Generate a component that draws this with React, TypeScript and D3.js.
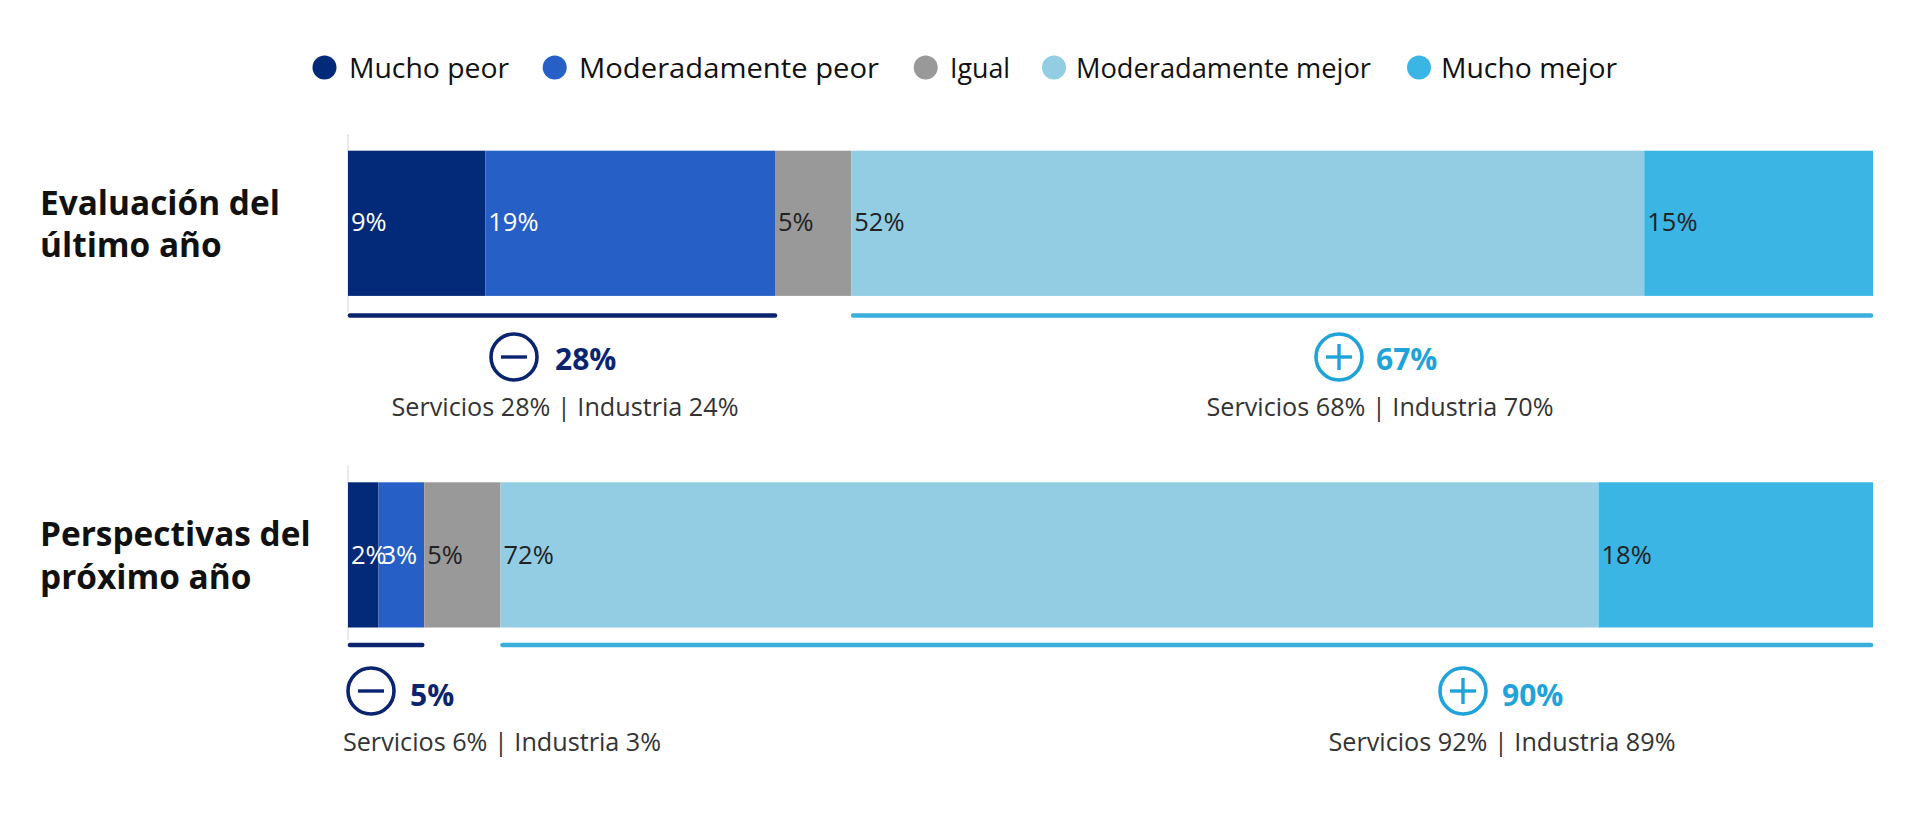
import React from "react";
import * as d3 from "d3";

const legendLabels = ["Mucho peor", "Moderadamente peor", "Igual", "Moderadamente mejor", "Mucho mejor"];
const rowLabels = [["Evaluación del", "último año"], ["Perspectivas del", "próximo año"]];
const lastYear = [9, 19, 5, 52, 15];
const nextYear = [2, 3, 5, 72, 18];
const negativeTotals = [28, 5];
const positiveTotals = [67, 90];
const negativeDetail = ["Servicios 28% | Industria 24%", "Servicios 6% | Industria 3%"];
const positiveDetail = ["Servicios 68% | Industria 70%", "Servicios 92% | Industria 89%"];

const colors = ["#022a78", "#265fc6", "#999999", "#92cde3", "#3bb5e4"];
const labelColors = ["#ffffff", "#ffffff", "#222222", "#222222", "#222222"];
const NAVY = "#0b2470";
const SKY = "#1fa3da";
const FONT = "'Open Sans', sans-serif";

const legendCircleX = [324.5, 554.7, 925.7, 1054, 1419];
const legendTextX = [349, 579, 950, 1076, 1441];
const legendTextW = [160, 300, 60, 295, 176];
const rowTop = [150.7, 482.3];
const barHeight = 145.2;
const rowLabelY = [[215, 257], [546, 589]];
const valueY = [231, 564];
const lineY = [315.5, 645];
const axisY = [[134, 312], [465, 640]];
const negLayout = [
  { cx: 514, cy: 357, tx: 555, ty: 370, dx: 565, dy: 416 },
  { cx: 371, cy: 691, tx: 410, ty: 705.5, dx: 502, dy: 751 },
];
const posLayout = [
  { cx: 1339, cy: 357, tx: 1376, ty: 370, dx: 1380, dy: 416 },
  { cx: 1463, cy: 691, tx: 1502, ty: 705.5, dx: 1502, dy: 751 },
];

const x = d3.scaleLinear().domain([0, 100]).range([348, 1873]);

function Summary({ sign, total, detail, p, color }: any) {
  const r = 23;
  return (
    <g>
      <circle cx={p.cx} cy={p.cy} r={r} fill="#fff" stroke={color} strokeWidth={3.6} />
      <line x1={p.cx - 13} x2={p.cx + 13} y1={p.cy} y2={p.cy} stroke={color} strokeWidth={3.4} />
      {sign === "+" && <line x1={p.cx} x2={p.cx} y1={p.cy - 13} y2={p.cy + 13} stroke={color} strokeWidth={3.4} />}
      <text x={p.tx} y={p.ty} fontSize={30} fontWeight={700} fill={color}>{total}%</text>
      <text x={p.dx} y={p.dy} fontSize={25.2} fill="#333333" textAnchor="middle">{detail}</text>
    </g>
  );
}

export default function App() {
  const rows = [lastYear, nextYear];
  return (
    <svg width={1920} height={813} style={{ position: "absolute", left: 0, top: 0, display: "block", background: "#fff" }} fontFamily={FONT}>
      {legendLabels.map((l, i) => (
        <g key={l}>
          <circle cx={legendCircleX[i]} cy={67.5} r={12} fill={colors[i]} />
          <text x={legendTextX[i]} y={78} fontSize={28} fill="#111" textLength={legendTextW[i]} lengthAdjust="spacingAndGlyphs">{l}</text>
        </g>
      ))}
      {rows.map((vals, r) => {
        const cum = d3.cumsum(vals);
        const starts = vals.map((v, i) => cum[i] - v);
        const negEnd = cum[1];
        const posStart = starts[3];
        return (
          <g key={r}>
            {rowLabels[r].map((t, j) => (
              <text key={t} x={40} y={rowLabelY[r][j]} fontSize={33.4} fontWeight={700} fill="#111">{t}</text>
            ))}
            <line x1={x(0)} x2={x(0)} y1={axisY[r][0]} y2={axisY[r][1]} stroke="#d4d4d4" strokeWidth={1} />
            {vals.map((v, i) => (
              <rect key={i} x={x(starts[i])} y={rowTop[r]} width={x(starts[i] + v) - x(starts[i])} height={barHeight} fill={colors[i]} />
            ))}
            {vals.map((v, i) => (
              <text key={i} x={x(starts[i]) + 3} y={valueY[r]} fontSize={25.5} fill={labelColors[i]}>{v}%</text>
            ))}
            <line x1={x(0) + 2} x2={x(negEnd) + (r === 0 ? 0 : -2)} y1={lineY[r]} y2={lineY[r]} stroke={NAVY} strokeWidth={4.6} strokeLinecap="round" />
            <line x1={x(posStart) + 2} x2={x(100) - 2} y1={lineY[r]} y2={lineY[r]} stroke="#3aaedc" strokeWidth={4.6} strokeLinecap="round" />
            <Summary sign="-" total={negativeTotals[r]} detail={negativeDetail[r]} p={negLayout[r]} color={NAVY} />
            <Summary sign="+" total={positiveTotals[r]} detail={positiveDetail[r]} p={posLayout[r]} color={SKY} />
          </g>
        );
      })}
    </svg>
  );
}
